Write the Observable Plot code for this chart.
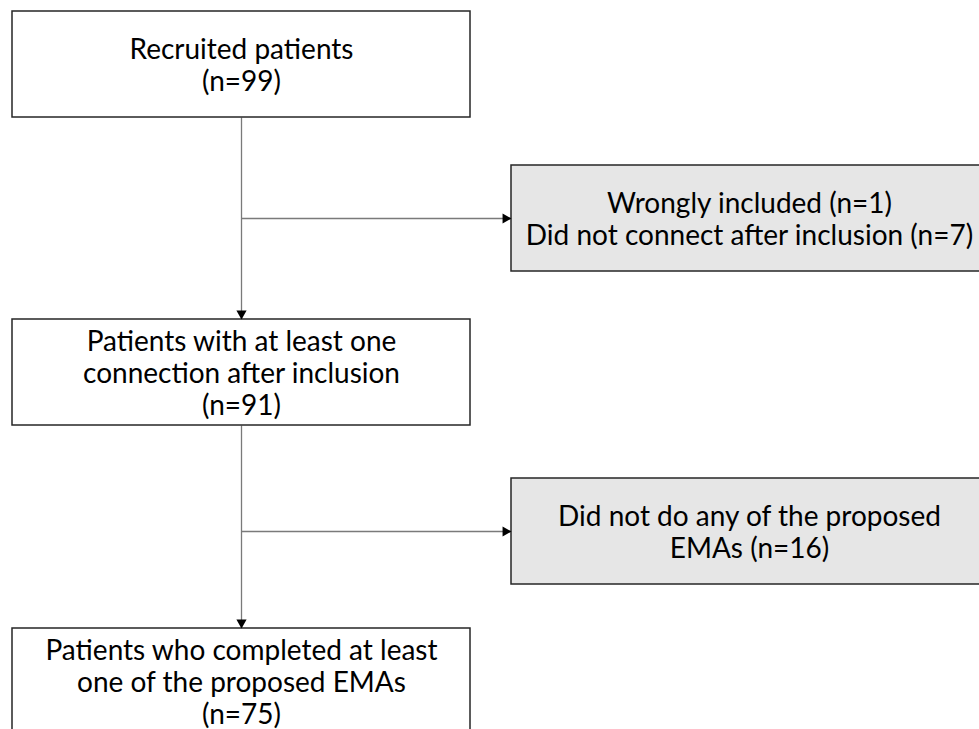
<!DOCTYPE html>
<html>
<head>
<meta charset="utf-8">
<script src="https://cdn.jsdelivr.net/npm/d3@7"></script>
<script src="https://cdn.jsdelivr.net/npm/@observablehq/plot@0.6"></script>
<style>
  html, body { margin: 0; padding: 0; background: #fff; overflow: hidden; }
  #chart svg { display: block; }
</style>
</head>
<body>
<div id="chart"></div>
<script>
// Flow steps (main column)
const stepLabels = [
  "Recruited patients",
  "Patients with at least one\nconnection after inclusion",
  "Patients who completed at least\none of the proposed EMAs"
];
const stepCounts = [99, 91, 75];
// Exclusions (side column)
const exclusionLabels = [
  "Wrongly included (n=1)\nDid not connect after inclusion (n=7)",
  "Did not do any of the proposed\nEMAs (n=16)"
];
// Layout (chart units = pixels, y measured downward)
const stepTop = [11, 319, 628];
const exclusionTop = [165, 478];
const stepX = [12, 470];
const exclusionX = [511, 987];
const boxH = 106;

const steps = stepLabels.map((l, i) => ({
  x1: stepX[0], x2: stepX[1], y1: stepTop[i], y2: stepTop[i] + boxH,
  label: `${l}\n(n=${stepCounts[i]})`
}));
const exclusions = exclusionLabels.map((l, i) => ({
  x1: exclusionX[0], x2: exclusionX[1], y1: exclusionTop[i], y2: exclusionTop[i] + boxH,
  label: l
}));
const cx = (stepX[0] + stepX[1]) / 2;
const vLinks = [0, 1].map(i => ({x1: cx, y1: stepTop[i] + boxH, x2: cx, y2: stepTop[i + 1]}));
const hLinks = [0, 1].map(i => {
  const y = exclusionTop[i] + boxH / 2;
  return {x1: cx, y1: y, x2: exclusionX[0], y2: y};
});

const font = "Lato, 'Open Sans', sans-serif";
const chart = Plot.plot({
  width: 979,
  height: 729,
  margin: 0,
  x: {domain: [0, 979], axis: null},
  y: {domain: [0, 729], reverse: true, axis: null},
  style: {fontFamily: font, background: "#fff"},
  marks: [
    Plot.link([...vLinks, ...hLinks], {x1: "x1", y1: "y1", x2: "x2", y2: "y2", stroke: "#7a7a7a", strokeWidth: 1.3}),
    Plot.rect(steps, {x1: "x1", x2: "x2", y1: "y1", y2: "y2", fill: "#fff", stroke: "#262626", strokeWidth: 1.5}),
    Plot.rect(exclusions, {x1: "x1", x2: "x2", y1: "y1", y2: "y2", fill: "#e6e6e6", stroke: "#262626", strokeWidth: 1.5}),
    Plot.dot(vLinks, {x: "x2", y: "y2", symbol: "triangle", r: 3.8, rotate: 180, dy: -6, fill: "#000", stroke: null}),
    Plot.dot(hLinks, {x: "x2", y: "y2", symbol: "triangle", r: 3.8, rotate: 90, dx: -6, fill: "#000", stroke: null}),
    Plot.text(steps, {x: d => (d.x1 + d.x2) / 2, y: d => (d.y1 + d.y2) / 2, text: "label", fontSize: 28, lineHeight: 1.14, fill: "#000"}),
    Plot.text(exclusions, {x: d => (d.x1 + d.x2) / 2, y: d => (d.y1 + d.y2) / 2, text: "label", fontSize: 28, lineHeight: 1.14, fill: "#000"})
  ]
});
document.getElementById("chart").append(chart);
</script>
</body>
</html>
